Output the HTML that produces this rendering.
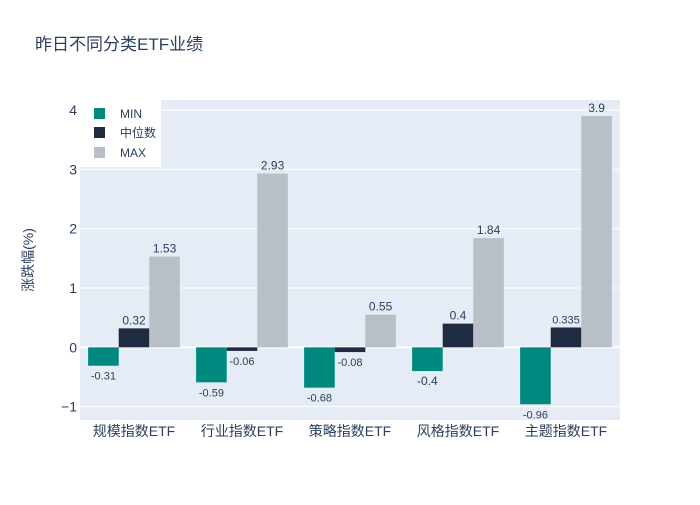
<!DOCTYPE html>
<html><head><meta charset="utf-8"><style>
body{margin:0;background:#fff;}
svg text{font-family:"Liberation Sans","Noto Sans CJK SC",sans-serif;fill:#2a3f5f;}
</style></head><body>
<svg id="chart" width="700" height="500">
<rect width="700" height="500" fill="#fff"/>
<text x="35" y="50" font-size="17">昨日不同分类ETF业绩</text>
<rect x="80" y="100" width="540" height="320" fill="#e5ecf6"/>
<g id="grid"></g><g id="bars"></g><g id="labels"></g>
<text transform="translate(33,260) rotate(-90)" text-anchor="middle" font-size="14">涨跌幅(%)</text>
<g>
<rect x="80" y="100" width="81" height="67" fill="#fff"/>
<rect x="94" y="108" width="11" height="11" fill="#00897f"/>
<text x="120" y="118" font-size="12">MIN</text>
<rect x="94" y="127" width="11" height="11" fill="#1f2b40"/>
<text x="120" y="137" font-size="12">中位数</text>
<rect x="94" y="147" width="11" height="11" fill="#b8bfc7"/>
<text x="120" y="157" font-size="12">MAX</text>
</g>
</svg>
<script>
const categories=["规模指数ETF","行业指数ETF","策略指数ETF","风格指数ETF","主题指数ETF"];
const minVals=[-0.31,-0.59,-0.68,-0.4,-0.96];
const medVals=[0.32,-0.06,-0.08,0.4,0.335];
const maxVals=[1.53,2.93,0.55,1.84,3.9];
const yTicks=[-1,0,1,2,3,4];
const yTickLabels=["−1","0","1","2","3","4"];
const NS="http://www.w3.org/2000/svg";
const L=80,R=620,T=100,B=420,yMin=-1.225,yMax=4.17;
const y=v=>B-(v-yMin)/(yMax-yMin)*(B-T);
const band=(R-L)/categories.length;
const xc=i=>L+band*(i+0.5);
function mk(tag,attrs,parent){const e=document.createElementNS(NS,tag);for(const k in attrs)e.setAttribute(k,attrs[k]);document.getElementById(parent).appendChild(e);return e;}
yTicks.forEach((t,i)=>{
  const ln=mk("line",{x1:L,x2:R,y1:y(t),y2:y(t),stroke:"#fff","stroke-width":t===0?2:1},"grid");
  
  
  const tx=mk("text",{x:L-3,y:y(t)+5,"text-anchor":"end","font-size":14},"grid");
  tx.textContent=yTickLabels[i];
  
  
});
const series=[[minVals,"#00897f","min"],[medVals,"#1f2b40","median"],[maxVals,"#b8bfc7","max"]];
const bw=band*0.85/3;
categories.forEach((c,i)=>{
  const t=mk("text",{x:xc(i),y:B+16,"text-anchor":"middle","font-size":14},"labels");
  t.textContent=c;
  
  
  series.forEach(([vals,col,nm],s)=>{
    const v=vals[i];
    const x0=xc(i)-band*0.425+s*bw;
    const r=mk("rect",{x:x0,width:bw,y:Math.min(y(v),y(0)),height:Math.abs(y(v)-y(0)),fill:col},"bars");
    
    
    const lb=mk("text",{x:x0+bw/2,y:v>=0?y(v)-4:y(v)+14,"text-anchor":"middle","font-size":(String(v).length>4?11:12)},"labels");
    lb.textContent=String(v);
    
    
  });
});
</script>
</body></html>
